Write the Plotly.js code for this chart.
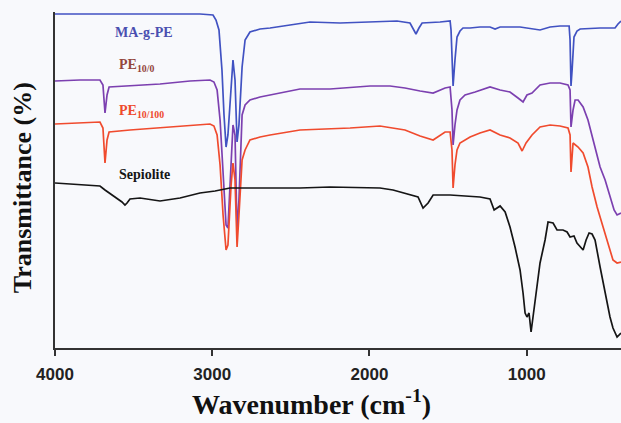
<!DOCTYPE html>
<html>
<head>
<meta charset="utf-8">
<script src="https://cdn.plot.ly/plotly-3.0.1.min.js"></script>
<style>html,body{margin:0;padding:0;background:#f8f9fc;}#chart{width:621px;height:423px;}</style>
</head>
<body>
<div id="chart"></div>
<script>
// Wavenumber (cm-1) and transmittance (arbitrary, offset units) for each spectrum
var maWave = [4000,3714,3396,3078,2995,2976,2957,2938,2925,2912,2900,2880,2868,2855,2842,2830,2810,2791,2760,2696,2632,2505,2378,2187,1996,1825,1742,1723,1704,1685,1665,1551,1487,1481,1475,1468,1456,1443,1424,1405,1360,1297,1233,1201,1169,1042,915,851,788,730,724,718,711,699,680,660,533,438,419,400];
var maT = [334,334,334,334,333,328,318,278,233,201,213,263,288,268,206,223,281,308,316,319,320,323,326,325,326,327,325,320,314,320,325,326,327,318,288,262,288,311,317,320,320,321,321,319,321,321,318,321,322,322,308,262,278,311,317,319,320,320,324,327];

var pe0Wave = [4000,3841,3714,3695,3682,3669,3656,3523,3332,3141,3014,2989,2969,2950,2931,2912,2900,2880,2868,2855,2842,2830,2810,2791,2760,2696,2632,2442,2251,1996,1869,1774,1678,1595,1519,1487,1475,1468,1456,1443,1424,1392,1328,1233,1169,1106,1055,1023,998,966,915,851,788,737,724,718,705,692,673,641,610,565,533,501,470,444,425,400];
var pe0T = [267,268,268,263,235,253,261,262,264,267,268,266,258,228,168,123,120,188,223,213,116,148,233,243,248,251,253,259,259,262,262,260,257,255,260,261,238,203,223,238,248,253,256,261,258,256,250,246,253,255,263,265,265,263,258,221,238,248,248,241,228,201,181,168,151,138,133,135];

var pe100Wave = [4000,3841,3714,3695,3682,3669,3656,3523,3332,3141,3014,2989,2969,2950,2931,2912,2900,2880,2868,2855,2842,2830,2810,2791,2760,2696,2632,2442,2123,1933,1774,1678,1595,1519,1487,1475,1468,1456,1443,1424,1360,1297,1233,1169,1106,1055,1029,1004,966,915,851,788,737,724,718,705,673,641,610,584,552,514,482,451,425,400];
var pe100T = [224,225,226,220,185,208,216,218,220,222,224,222,213,183,133,98,103,163,185,168,101,133,188,198,208,211,213,218,220,222,218,212,208,216,216,198,160,183,198,205,211,215,218,213,210,205,197,205,213,221,223,222,220,213,176,205,201,195,181,161,141,121,105,88,85,86];

var sepWave = [4000,3905,3777,3714,3682,3637,3599,3574,3555,3542,3523,3459,3332,3205,3078,2982,2887,2728,2442,2251,2060,1933,1850,1805,1691,1659,1627,1595,1487,1297,1233,1207,1188,1169,1137,1106,1074,1042,1023,1010,998,985,972,959,934,915,883,864,832,807,769,743,724,699,680,641,622,603,584,565,533,501,470,451,425,400];
var sepT = [165,164,163,162,158,153,149,146,143,145,149,150,147,150,155,157,160,160,160,161,160,160,158,156,151,140,145,153,153,151,149,138,140,142,136,121,101,78,55,35,31,35,16,31,61,85,108,126,125,118,118,116,111,112,105,98,108,115,114,108,81,55,31,20,11,15];

var seriesNames = ['MA-g-PE', 'PE<sub>10/0</sub>', 'PE<sub>10/100</sub>', 'Sepiolite'];
var xTicks = [4000, 3000, 2000, 1000];
var xTickText = ['4000', '3000', '2000', '1000'];

var lineColors = ['#4152c2', '#7c40b0', '#f04b2e', '#151515'];
var labelColors = ['#4a4fb0', '#94463c', '#ee4a2c', '#151515'];

var waves = [maWave, pe0Wave, pe100Wave, sepWave];
var vals = [maT, pe0T, pe100T, sepT];

var traces = waves.map(function (w, i) {
  return {
    x: w, y: vals[i], type: 'scatter', mode: 'lines',
    name: seriesNames[i],
    line: {color: lineColors[i], width: 1.7},
    hoverinfo: 'skip'
  };
});

var serif = 'Liberation Serif, Times New Roman, serif';
var labelPos = [[0.1025, 0.940], [0.1095, 0.842], [0.1095, 0.705], [0.1095, 0.515]];
var annotations = seriesNames.map(function (n, i) {
  return {
    text: n, xref: 'paper', yref: 'paper', x: labelPos[i][0], y: labelPos[i][1],
    xanchor: 'left', yanchor: 'middle', showarrow: false,
    font: {family: serif, size: 14, weight: 'bold', color: labelColors[i]}
  };
});
annotations.push({
  text: 'Wavenumber (cm<sup>-1</sup>)', xref: 'paper', yref: 'paper',
  x: 0.454, y: -0.163, xanchor: 'center', yanchor: 'middle', showarrow: false,
  font: {family: serif, size: 28, weight: 'bold', color: '#111'}
});
annotations.push({
  text: 'Transmittance (%)', xref: 'paper', yref: 'paper', textangle: -90,
  x: -0.058, y: 0.476, xanchor: 'center', yanchor: 'middle', showarrow: false,
  font: {family: serif, size: 26, weight: 'bold', color: '#111'}
});

var layout = {
  width: 621, height: 423,
  margin: {l: 55, r: 0, t: 12, b: 75},
  paper_bgcolor: '#f8f9fc', plot_bgcolor: '#f8f9fc',
  showlegend: false,
  xaxis: {
    range: [4000, 400], tickvals: xTicks, ticktext: xTickText,
    ticks: 'outside', ticklen: 6, tickwidth: 2, tickcolor: '#333',
    ticklabelstandoff: 4,
    showline: true, linecolor: '#333', linewidth: 2,
    showgrid: false, zeroline: false,
    tickfont: {family: 'Liberation Sans, Arial, sans-serif', size: 17, weight: 'bold', color: '#222'}
  },
  yaxis: {
    range: [0, 336], showticklabels: false, ticks: '',
    showline: true, linecolor: '#333', linewidth: 2,
    showgrid: false, zeroline: false
  },
  annotations: annotations
};

Plotly.newPlot('chart', traces, layout, {staticPlot: true, displayModeBar: false});
</script>
</body>
</html>
